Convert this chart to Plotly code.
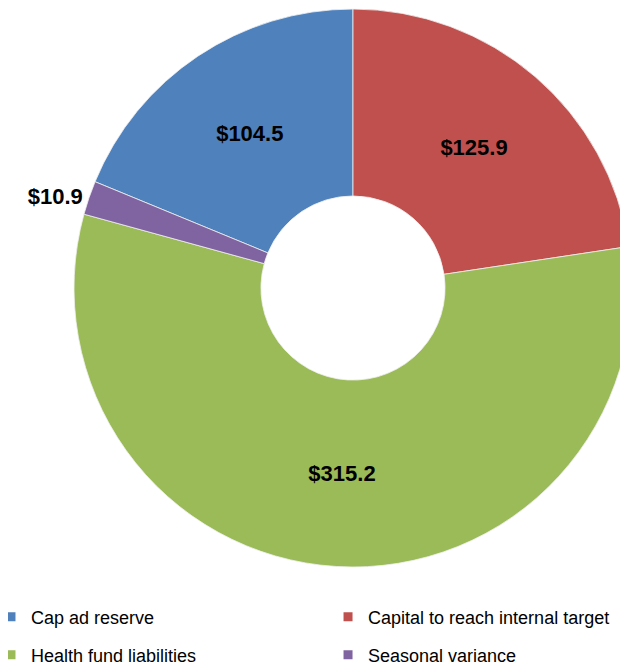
import plotly.graph_objects as go

labels = ["Cap ad reserve", "Capital to reach internal target", "Health fund liabilities", "Seasonal variance"]
values = [104.5, 125.9, 315.2, 10.9]
colors = ["#4F81BD", "#C0504D", "#9BBB59", "#8064A2"]
text_positions = ["inside", "inside", "inside", "outside"]

total = sum(values)
start_angle = -360 * values[0] / total  # blue slice ends at 12 o'clock

FONT = "Liberation Sans, Arial, sans-serif"

fig = go.Figure()
fig.add_trace(go.Pie(
    labels=labels,
    values=values,
    sort=False,
    direction="clockwise",
    rotation=start_angle,
    hole=0.33,
    marker=dict(colors=colors, line=dict(color="#F0F0F0", width=0.8)),
    texttemplate="$%{value:.1f}",
    textposition=text_positions,
    insidetextorientation="horizontal",
    textfont=dict(family=FONT, size=22, color="black", weight="bold"),
    domain=dict(x=[0.1051, 0.9936], y=[0.1476, 1.0]),
    showlegend=False,
    hoverinfo="label+value",
))

# legend entries (2 x 2 grid, one legend per entry)
legend_ids = ["legend", "legend2", "legend3", "legend4"]
for lab, col, lid in zip(labels, colors, legend_ids):
    fig.add_trace(go.Scatter(
        x=[None], y=[None], mode="markers",
        marker=dict(symbol="square", size=9, color=col),
        name=lab, legend=lid, showlegend=True, hoverinfo="skip",
    ))

leg_common = dict(
    orientation="h", xanchor="left", yanchor="middle",
    font=dict(family=FONT, size=18, color="black"),
    bgcolor="rgba(0,0,0,0)", itemwidth=30,
)
col_x = [-0.0271, 0.5096]
row_y = [0.0731, 0.0152]

fig.update_layout(
    width=628, height=657,
    margin=dict(l=0, r=0, t=0, b=0, autoexpand=False),
    paper_bgcolor="white", plot_bgcolor="white",
    font=dict(family=FONT, size=16, color="black"),
    xaxis=dict(visible=False), yaxis=dict(visible=False),
    legend=dict(x=col_x[0], y=row_y[0], **leg_common),
    legend2=dict(x=col_x[1], y=row_y[0], **leg_common),
    legend3=dict(x=col_x[0], y=row_y[1], **leg_common),
    legend4=dict(x=col_x[1], y=row_y[1], **leg_common),
)

fig.write_html("out.html")
